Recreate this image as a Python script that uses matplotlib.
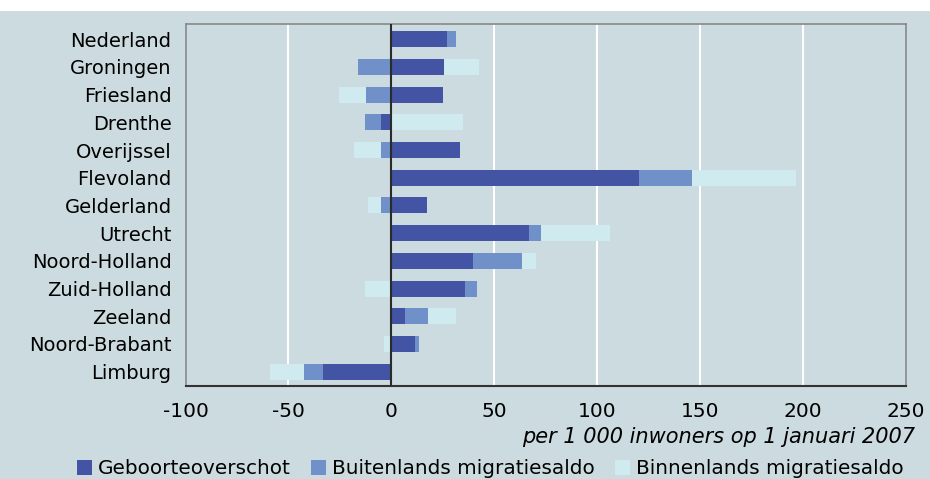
import numpy as np
import matplotlib
matplotlib.use("Agg")
import matplotlib.pyplot as plt
from matplotlib.patches import Rectangle

# Data (per 1 000 inwoners op 1 januari 2007)
provincies = ["Nederland", "Groningen", "Friesland", "Drenthe", "Overijssel",
              "Flevoland", "Gelderland", "Utrecht", "Noord-Holland",
              "Zuid-Holland", "Zeeland", "Noord-Brabant", "Limburg"]
geboorteoverschot = [26.9, 25.5, 25.0, -4.8, 33.2, 120.2, 17.3, 66.8, 39.9, 35.6, 6.7, 11.5, -33.2]
buitenlands = [4.3, -16.3, -12.5, -8.2, -4.8, 26.0, -4.8, 5.8, 23.6, 6.2, 11.1, 2.0, -9.1]
binnenlands = [0.0, 17.3, -13.0, 34.6, -13.5, 50.4, -6.7, 33.7, 6.7, -13.0, 13.4, -3.8, -16.8]

bg = "#ccdbe0"
c_geb = "#4254a3"
c_buit = "#6f90c9"
c_binn = "#cfebef"

fig = plt.figure(figsize=(9.30, 4.79), dpi=100)
fig.patch.set_facecolor(bg)
# white strip at the top (cropped title area)
fig.patches.append(Rectangle((0, 1 - 11 / 479), 1, 11 / 479, transform=fig.transFigure,
                             facecolor="white", edgecolor="none", zorder=-1))

ax = fig.add_axes([185.5 / 930, 1 - 385.5 / 479, (906 - 185.5) / 930, (385.5 - 24) / 479])
ax.set_facecolor(bg)

y = np.arange(len(provincies))
series = [(geboorteoverschot, c_geb, "Geboorteoverschot"),
          (buitenlands, c_buit, "Buitenlands migratiesaldo"),
          (binnenlands, c_binn, "Binnenlands migratiesaldo")]

pos_base = np.zeros(len(provincies))
neg_base = np.zeros(len(provincies))
for vals, col, lab in series:
    v = np.array(vals)
    left = np.where(v >= 0, pos_base, neg_base)
    ax.barh(y, v, left=left, height=0.58, color=col, label=lab, zorder=3)
    pos_base += np.where(v >= 0, v, 0)
    neg_base += np.where(v < 0, v, 0)

ax.set_xlim(-100, 250)
ax.set_ylim(12.5, -0.55)
ax.set_xticks(np.arange(-100, 251, 50))
ax.set_xticklabels([str(t) for t in range(-100, 251, 50)])
ax.set_yticks(y)
ax.set_yticklabels(provincies)
ax.tick_params(axis="both", length=0, colors="black")
ax.tick_params(axis="y", pad=10, labelsize=14)
ax.tick_params(axis="x", pad=12, labelsize=14.5)

for x in [-50, 50, 100, 150, 200]:
    ax.axvline(x, color="white", lw=1.5, zorder=1)
ax.axvline(0, color="#2b2b2b", lw=1.5, zorder=4)

for s in ["top", "left", "right"]:
    ax.spines[s].set_color("#888888")
    ax.spines[s].set_linewidth(1.2)
ax.spines["bottom"].set_color("#333333")
ax.spines["bottom"].set_linewidth(1.5)

fig.text(915 / 930, 1 - 437 / 479, "per 1 000 inwoners op 1 januari 2007",
         ha="right", va="center", fontsize=15, style="italic")

fig.legend(loc="center", bbox_to_anchor=(490 / 930, 1 - 469 / 479), ncol=3,
           frameon=False, fontsize=14.4, handlelength=0.75, handleheight=0.75,
           handletextpad=0.3, columnspacing=1.0, borderaxespad=0)

plt.savefig("out.png", dpi=100, facecolor=fig.get_facecolor())
